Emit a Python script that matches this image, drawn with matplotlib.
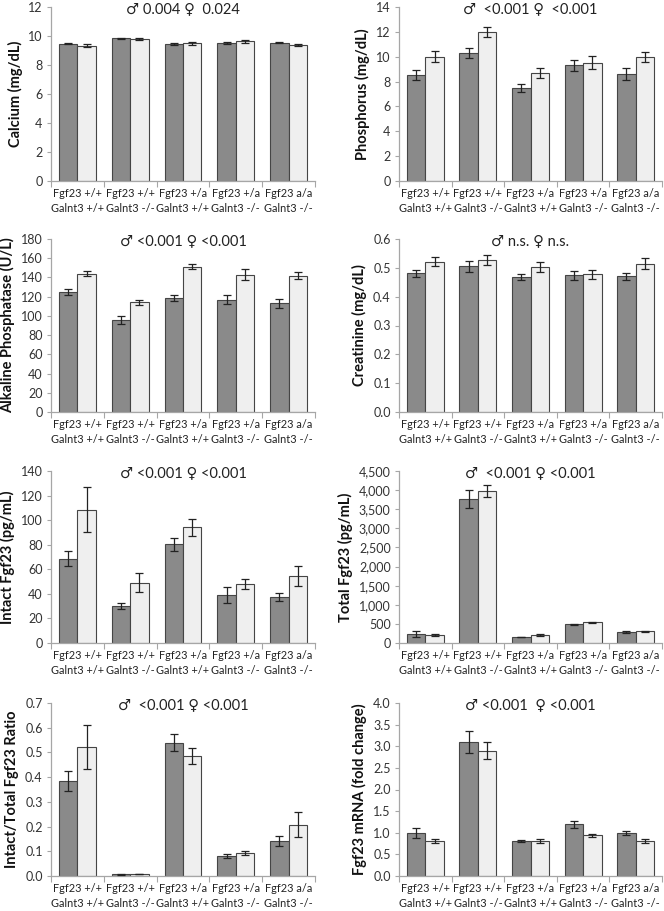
import matplotlib
matplotlib.use("Agg")
import matplotlib.pyplot as plt
import numpy as np

plt.rcParams['font.family'] = ['Lato', 'DejaVu Sans']

groups = ["Fgf23 +/+\nGalnt3 +/+", "Fgf23 +/+\nGalnt3 -/-", "Fgf23 +/a\nGalnt3 +/+",
          "Fgf23 +/a\nGalnt3 -/-", "Fgf23 a/a\nGalnt3 -/-"]

# male (dark) / female (light) means and SEM
ca_m = [9.47, 9.85, 9.42, 9.55, 9.53]
ca_m_err = [0.05, 0.03, 0.07, 0.07, 0.04]
ca_f = [9.33, 9.80, 9.50, 9.63, 9.35]
ca_f_err = [0.10, 0.08, 0.12, 0.10, 0.07]

p_m = [8.5, 10.3, 7.5, 9.3, 8.6]
p_m_err = [0.4, 0.4, 0.3, 0.43, 0.47]
p_f = [10.0, 12.0, 8.7, 9.5, 9.97]
p_f_err = [0.42, 0.4, 0.4, 0.52, 0.4]

alp_m = [125, 96, 119, 117, 113]
alp_m_err = [3, 4, 3, 5, 5]
alp_f = [144, 114, 151, 143, 142]
alp_f_err = [3, 3, 2.5, 6, 3.5]

cr_m = [0.481, 0.505, 0.468, 0.474, 0.471]
cr_m_err = [0.013, 0.02, 0.01, 0.016, 0.012]
cr_f = [0.521, 0.527, 0.502, 0.477, 0.515]
cr_f_err = [0.015, 0.016, 0.017, 0.016, 0.018]

ifgf_m = [68.5, 30.3, 80.2, 39.2, 37.3]
ifgf_m_err = [6, 2.5, 5, 6.5, 3]
ifgf_f = [108.6, 49.2, 94.1, 47.8, 54.6]
ifgf_f_err = [18, 8, 7, 4, 8]

tfgf_m = [234, 3764, 156, 485, 286]
tfgf_m_err = [75, 235, 10, 25, 20]
tfgf_f = [216, 3970, 208, 537, 303]
tfgf_f_err = [20, 160, 15, 25, 15]

ratio_m = [0.385, 0.007, 0.54, 0.081, 0.142]
ratio_m_err = [0.04, 0.001, 0.033, 0.008, 0.02]
ratio_f = [0.522, 0.009, 0.487, 0.093, 0.208]
ratio_f_err = [0.09, 0.001, 0.032, 0.01, 0.052]

mrna_m = [1.0, 3.1, 0.81, 1.2, 1.0]
mrna_m_err = [0.11, 0.25, 0.03, 0.08, 0.05]
mrna_f = [0.81, 2.9, 0.81, 0.94, 0.81]
mrna_f_err = [0.05, 0.2, 0.05, 0.03, 0.04]

panels = [
    ("Calcium (mg/dL)", ca_m, ca_m_err, ca_f, ca_f_err, 12, 2, "{:.0f}", "\u2642 0.004 \u2640  0.024"),
    ("Phosphorus (mg/dL)", p_m, p_m_err, p_f, p_f_err, 14, 2, "{:.0f}", "\u2642  <0.001 \u2640  <0.001"),
    ("Alkaline Phosphatase (U/L)", alp_m, alp_m_err, alp_f, alp_f_err, 180, 20, "{:.0f}", "\u2642 <0.001 \u2640 <0.001"),
    ("Creatinine (mg/dL)", cr_m, cr_m_err, cr_f, cr_f_err, 0.6, 0.1, "{:.1f}", "\u2642 n.s. \u2640 n.s."),
    ("Intact Fgf23 (pg/mL)", ifgf_m, ifgf_m_err, ifgf_f, ifgf_f_err, 140, 20, "{:.0f}", "\u2642 <0.001 \u2640 <0.001"),
    ("Total Fgf23 (pg/mL)", tfgf_m, tfgf_m_err, tfgf_f, tfgf_f_err, 4500, 500, "{:,.0f}", "\u2642  <0.001 \u2640 <0.001"),
    ("Intact/Total Fgf23 Ratio", ratio_m, ratio_m_err, ratio_f, ratio_f_err, 0.7, 0.1, "{:.1f}", "\u2642  <0.001 \u2640 <0.001"),
    ("Fgf23 mRNA (fold change)", mrna_m, mrna_m_err, mrna_f, mrna_f_err, 4.0, 0.5, "{:.1f}", "\u2642 <0.001  \u2640 <0.001"),
]

fig = plt.figure(figsize=(6.64, 9.11), dpi=100)
W, H = 664, 911
col_x = [(51, 315), (399, 662)]
row_y = [(7, 181), (239, 412), (471, 643), (703, 876)]

dark = "#8a8a8a"
light = "#efefef"
edge = "#454545"
spine_c = "#a6a6a6"
bw = 0.35
x = np.arange(len(groups))

for i, (ylab, m, me, f, fe, ymax, step, fmt, note) in enumerate(panels):
    r, c = divmod(i, 2)
    x0, x1 = col_x[c]
    y0, y1 = row_y[r]
    ax = fig.add_axes([x0 / W, 1 - y1 / H, (x1 - x0) / W, (y1 - y0) / H])
    ax.bar(x - bw / 2, m, bw, color=dark, edgecolor=edge, linewidth=0.8, zorder=2)
    ax.bar(x + bw / 2, f, bw, color=light, edgecolor=edge, linewidth=0.8, zorder=2)
    ax.errorbar(x - bw / 2, m, yerr=me, fmt="none", ecolor="#222222", elinewidth=0.9, capsize=2.8, capthick=0.9, zorder=3)
    ax.errorbar(x + bw / 2, f, yerr=fe, fmt="none", ecolor="#222222", elinewidth=0.9, capsize=2.8, capthick=0.9, zorder=3)

    ax.set_xlim(-0.5, len(groups) - 0.5)
    ax.set_ylim(0, ymax)
    yt = np.arange(0, ymax + step / 2, step)
    ax.set_yticks(yt)
    ax.set_yticklabels([fmt.format(v) for v in yt], fontsize=9, color="#333333")
    ax.set_xticks(np.arange(-0.5, len(groups), 1.0))
    ax.set_xticklabels([])
    ax.set_xticks(x, minor=True)
    ax.set_xticklabels(groups, minor=True, fontsize=7.9, color="#222222", linespacing=1.45)
    ax.tick_params(axis="x", which="minor", length=0, pad=5)
    ax.tick_params(axis="x", which="major", length=4, color=spine_c, direction="out")
    ax.tick_params(axis="y", length=3, color=spine_c, direction="out", pad=3)
    for s in ["top", "right"]:
        ax.spines[s].set_visible(False)
    for s in ["left", "bottom"]:
        ax.spines[s].set_color(spine_c)
        ax.spines[s].set_linewidth(0.9)
    ax.set_ylabel(ylab, fontsize=10.5, fontweight="bold", color="#111111", labelpad=4)
    ax.text(0.5, 0.985, note, transform=ax.transAxes, ha="center", va="center",
            fontsize=10.5, color="#222222")

fig.savefig("out.png", dpi=100)
